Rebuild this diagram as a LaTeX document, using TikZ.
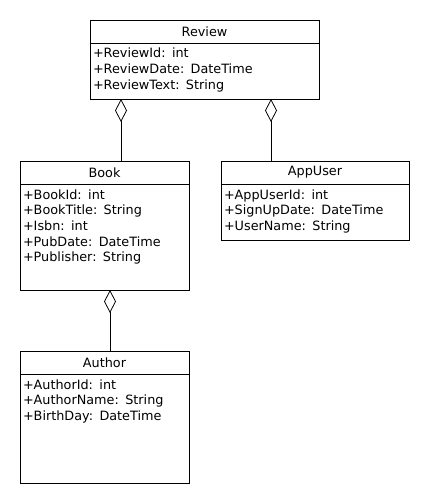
\documentclass[tikz,border=0pt]{standalone}
\usepackage{fontspec}
\setmainfont{DejaVu Sans}
\usepackage{tikz}
\usetikzlibrary{arrows.meta,positioning}

\begin{document}
\begin{tikzpicture}[x=1pt,y=-1pt,line width=0.8pt,
   every node/.style={font=\fontsize{12.8pt}{15.7pt}\selectfont},
   classhead/.style={draw,anchor=north west,minimum height=23pt,inner sep=0pt,outer sep=0pt},
   classbody/.style={draw,align=left,inner xsep=3pt,inner ysep=3pt,outer sep=0pt,text height=12pt},
   aggregation/.style={-{Diamond[open,length=23pt,width=12pt]}}]
   \useasboundingbox (0,0) rectangle (430,500);
   % classes
   \node[classhead,minimum width=229pt] (reviewhead) at (90,20) {Review};
   \node[classbody,below=0pt of reviewhead,text width=223pt,text depth=38pt] (reviewbody)
      {+ReviewId: int\\+ReviewDate: DateTime\\+ReviewText: String};
   \node[classhead,minimum width=169pt] (bookhead) at (20,161) {Book};
   \node[classbody,below=0pt of bookhead,text width=163pt,text depth=88pt] (bookbody)
      {+BookId: int\\+BookTitle: String\\+Isbn: int\\+PubDate: DateTime\\+Publisher: String};
   \node[classhead,minimum width=188pt] (userhead) at (221,161) {AppUser};
   \node[classbody,below=0pt of userhead,text width=182pt,text depth=38pt] (userbody)
      {+AppUserId: int\\+SignUpDate: DateTime\\+UserName: String};
   \node[classhead,minimum width=169pt] (authorhead) at (20,351) {Author};
   \node[classbody,below=0pt of authorhead,text width=163pt,text depth=91pt] (authorbody)
      {+AuthorId: int\\+AuthorName: String\\+BirthDay: DateTime};
   % aggregations
   \draw[aggregation] ([xshift=16.5pt]bookhead.north) -- ([xshift=16.5pt]bookhead.north |- reviewbody.south);
   \draw[aggregation] ([xshift=-44pt]userhead.north) -- ([xshift=-44pt]userhead.north |- reviewbody.south);
   \draw[aggregation] ([xshift=5.5pt]authorhead.north) -- ([xshift=5.5pt]authorhead.north |- bookbody.south);
\end{tikzpicture}
\end{document}
